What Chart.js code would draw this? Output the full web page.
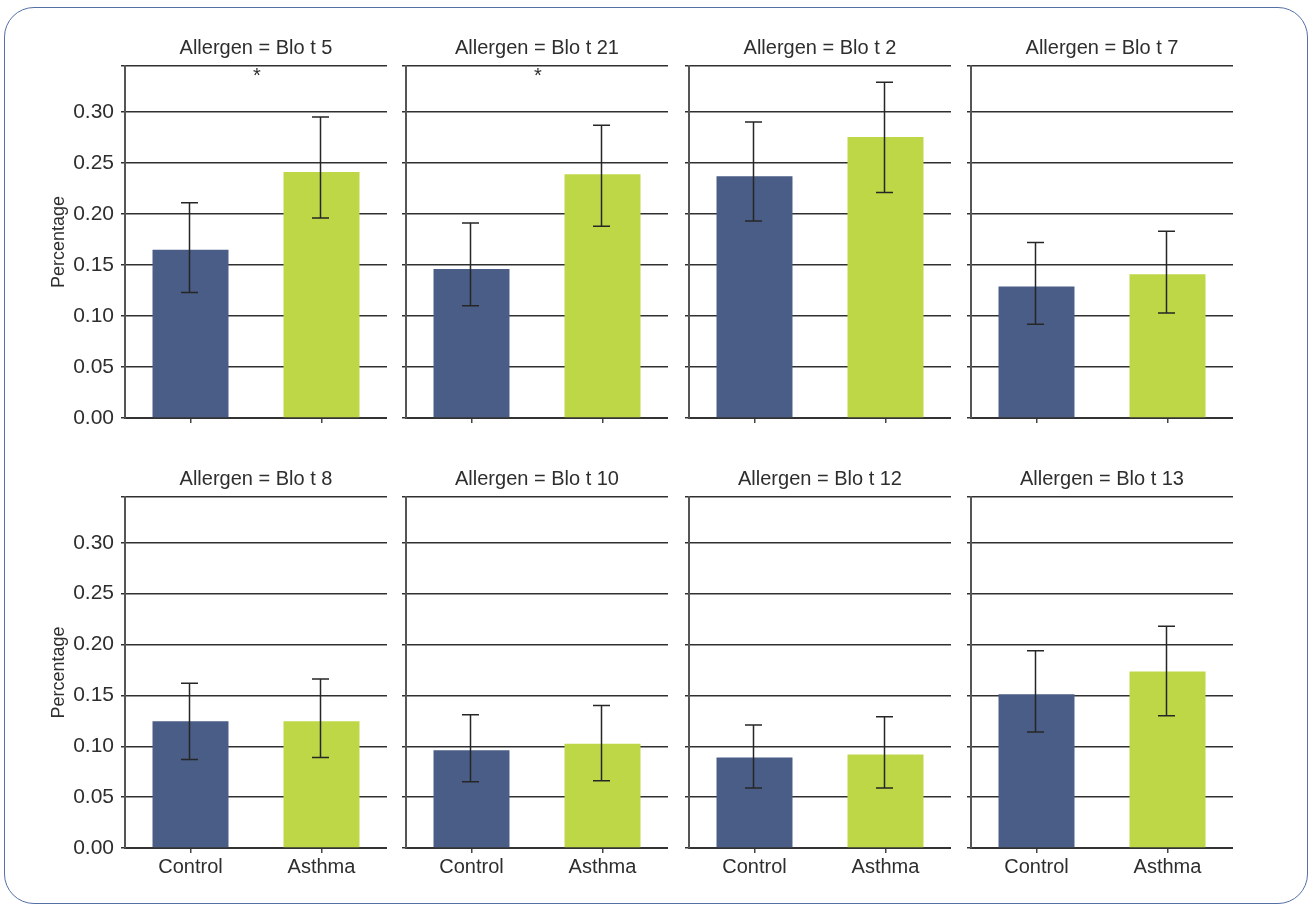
<!DOCTYPE html>
<html>
<head>
<meta charset="utf-8">
<script src="https://cdn.jsdelivr.net/npm/chart.js@4/dist/chart.umd.min.js"></script>
<style>
  body { margin: 0; background: #fff; }
  #page { position: relative; width: 1309px; height: 905px; overflow: hidden; }
  #frame {
    position: absolute; left: 4px; top: 7px; width: 1304px; height: 897px;
    box-sizing: border-box; border: 1.5px solid #5470a5; border-radius: 30px;
  }
  .panel { position: absolute; }
</style>
</head>
<body>
<div id="page">
  <div id="frame"></div>
</div>
<script>
// data
const allergens = ['Blo t 5', 'Blo t 21', 'Blo t 2', 'Blo t 7', 'Blo t 8', 'Blo t 10', 'Blo t 12', 'Blo t 13'];
const groups = ['Control', 'Asthma'];
const controlMean = [0.165, 0.146, 0.237, 0.129, 0.1245, 0.096, 0.089, 0.151];
const controlLow  = [0.123, 0.110, 0.193, 0.092, 0.087, 0.065, 0.059, 0.114];
const controlHigh = [0.211, 0.191, 0.290, 0.172, 0.162, 0.131, 0.121, 0.194];
const asthmaMean  = [0.241, 0.239, 0.2755, 0.141, 0.1245, 0.1025, 0.092, 0.1735];
const asthmaLow   = [0.196, 0.188, 0.221, 0.103, 0.089, 0.066, 0.059, 0.130];
const asthmaHigh  = [0.295, 0.287, 0.329, 0.183, 0.166, 0.140, 0.129, 0.218];
const significant = [true, true, false, false, false, false, false, false];
const yTicks = [0, 0.05, 0.10, 0.15, 0.20, 0.25, 0.30];
const yMax = 0.345;

const barColors = ['#4a5d87', '#bed747'];
const fontFamily = '"Liberation Sans", Arial, sans-serif';
const textColor = '#2e2e2e';

// panel geometry (plot areas)
const plotLefts = [125, 406, 689, 971];
const plotWidth = 262;

// error bars, asterisk
const extras = {
  id: 'extras',
  afterDatasetsDraw(chart, args, opts) {
    const { ctx, chartArea, scales: { x, y } } = chart;
    const i = opts.panel;
    const lows = [controlLow[i], asthmaLow[i]];
    const highs = [controlHigh[i], asthmaHigh[i]];
    ctx.save();
    ctx.strokeStyle = '#262626';
    ctx.lineWidth = 1.5;
    groups.forEach((g, j) => {
      const cx = Math.round(x.getPixelForValue(j)) - 1.5;
      const yl = y.getPixelForValue(lows[j]);
      const yh = y.getPixelForValue(highs[j]);
      ctx.beginPath();
      ctx.moveTo(cx, yh); ctx.lineTo(cx, yl);
      ctx.moveTo(cx - 8.5, yh); ctx.lineTo(cx + 8.5, yh);
      ctx.moveTo(cx - 8.5, yl); ctx.lineTo(cx + 8.5, yl);
      ctx.stroke();
    });
    if (significant[i]) {
      ctx.fillStyle = textColor;
      ctx.font = '20px ' + fontFamily;
      ctx.textAlign = 'center';
      ctx.textBaseline = 'top';
      ctx.fillText('*', (chartArea.left + chartArea.right) / 2 + 1, chartArea.top);
    }
    ctx.restore();
  }
};

const page = document.getElementById('page');

allergens.forEach((name, i) => {
  const col = i % 4;
  const row = Math.floor(i / 4);
  const firstCol = col === 0;
  const bottomRow = row === 1;
  const yAxisW = firstCol ? 85 : 8;
  const xAxisH = bottomRow ? 40 : 20;
  const top = bottomRow ? 461 : 30;
  const plotBottom = bottomRow ? 848 : 418;

  const left = plotLefts[col] - yAxisW;
  const width = yAxisW + plotWidth;
  const height = plotBottom + xAxisH - top;

  const div = document.createElement('div');
  div.className = 'panel';
  div.style.left = left + 'px';
  div.style.top = top + 'px';
  div.style.width = width + 'px';
  div.style.height = height + 'px';
  const canvas = document.createElement('canvas');
  canvas.width = width;
  canvas.height = height;
  div.appendChild(canvas);
  page.appendChild(div);

  new Chart(canvas, {
    type: 'bar',
    data: {
      labels: groups,
      datasets: [{
        data: [controlMean[i], asthmaMean[i]],
        backgroundColor: barColors,
        borderWidth: 0,
        barPercentage: 0.58,
        categoryPercentage: 1
      }]
    },
    options: {
      responsive: false,
      animation: false,
      layout: { padding: 0 },
      plugins: {
        legend: { display: false },
        tooltip: { enabled: false },
        title: {
          display: true,
          fullSize: false,
          text: 'Allergen = ' + name,
          color: textColor,
          font: { family: fontFamily, size: 20, weight: 'normal' },
          padding: { top: 6, bottom: 6 }
        },
        extras: { panel: i }
      },
      scales: {
        x: {
          offset: true,
          grid: {
            display: true,
            drawOnChartArea: false,
            offset: false,
            tickLength: 5,
            color: '#444',
            lineWidth: 1.5
          },
          border: { display: true, color: '#333', width: 2 },
          ticks: {
            display: bottomRow,
            padding: 2,
            color: textColor,
            font: { family: fontFamily, size: 20 }
          },
          afterFit: s => { s.height = xAxisH; }
        },
        y: {
          min: 0,
          max: yMax,
          afterBuildTicks: s => {
            s.ticks = yTicks.map(v => ({ value: v })).concat([{ value: yMax }]);
          },
          grid: {
            color: '#303030',
            lineWidth: 1.5,
            tickLength: 4
          },
          border: { display: true, color: '#555', width: 2 },
          ticks: {
            display: firstCol,
            padding: 7,
            color: textColor,
            font: { family: fontFamily, size: 21 },
            callback: v => (yTicks.includes(v) ? v.toFixed(2) : '')
          },
          title: {
            display: firstCol,
            text: 'Percentage',
            color: textColor,
            font: { family: fontFamily, size: 18 },
            padding: { top: 8, bottom: 0 }
          },
          afterFit: s => { s.width = yAxisW; }
        }
      }
    },
    plugins: [extras]
  });
});
</script>
</body>
</html>
